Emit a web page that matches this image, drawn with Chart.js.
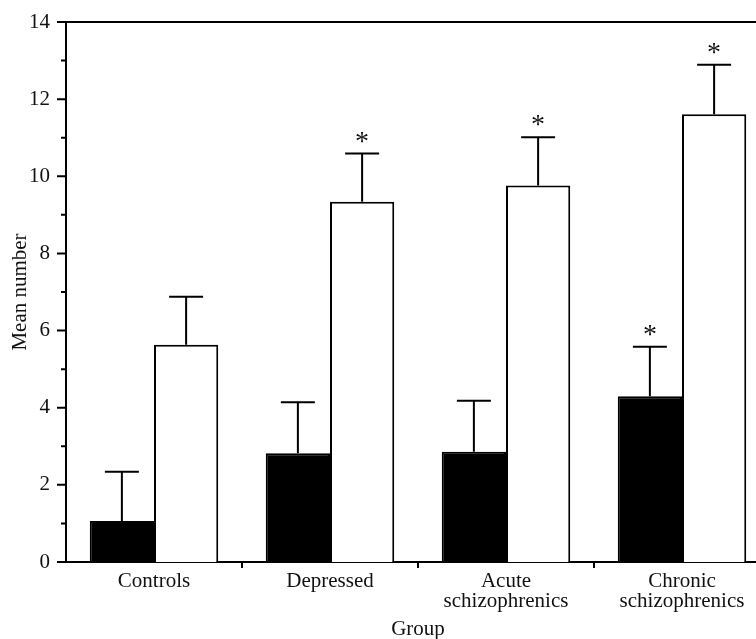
<!DOCTYPE html>
<html>
<head>
<meta charset="utf-8">
<script src="https://cdn.jsdelivr.net/npm/chart.js@4"></script>
<style>
  html, body { margin: 0; padding: 0; background: #fff; overflow: hidden; }
  #wrap { width: 756px; height: 639px; overflow: hidden; position: relative; }
  #box { width: 770px; height: 639px; position: absolute; left: 0; top: 0; }
</style>
</head>
<body>
<div id="wrap"><div id="box"><canvas id="chartCanvas"></canvas></div></div>
<script>
/* =========================
   Data
========================= */
const groups = [["Controls"], ["Depressed"], ["Acute", "schizophrenics"], ["Chronic", "schizophrenics"]];
const blackMeans = [1.06, 2.82, 2.86, 4.30];
const blackUpper = [2.34, 4.14, 4.18, 5.58];
const whiteMeans = [5.63, 9.34, 9.76, 11.61];
const whiteUpper = [6.88, 10.59, 11.01, 12.89];
const blackStars = [false, false, false, true];
const whiteStars = [false, true, true, true];
const yMin = 0;
const yMax = 14;

const serif = "'Liberation Serif', 'DejaVu Serif', serif";
const ink = "#111";

/* =========================
   Error bars + asterisks
========================= */
const errorBarPlugin = {
  id: "errorBars",
  afterDatasetsDraw(chart) {
    const ctx = chart.ctx;
    const y = chart.scales.y;
    const uppers = [blackUpper, whiteUpper];
    const stars = [blackStars, whiteStars];
    ctx.save();
    ctx.strokeStyle = "#000";
    ctx.lineWidth = 2;
    ctx.fillStyle = ink;
    ctx.font = "28px " + serif;
    ctx.textAlign = "center";
    ctx.textBaseline = "alphabetic";
    chart.data.datasets.forEach((ds, di) => {
      const meta = chart.getDatasetMeta(di);
      meta.data.forEach((bar, i) => {
        const top = y.getPixelForValue(uppers[di][i]);
        ctx.beginPath();
        ctx.moveTo(bar.x, bar.y);
        ctx.lineTo(bar.x, top);
        ctx.moveTo(bar.x - 17, top);
        ctx.lineTo(bar.x + 17, top);
        ctx.stroke();
        if (stars[di][i]) {
          ctx.fillText("*", bar.x, top - 4);
        }
      });
    });
    ctx.restore();
  }
};

/* =========================
   Frame + tick marks
========================= */
const framePlugin = {
  id: "frame",
  afterDraw(chart) {
    const ctx = chart.ctx;
    const a = chart.chartArea;
    const x = chart.scales.x;
    const y = chart.scales.y;
    ctx.save();
    ctx.strokeStyle = "#000";
    ctx.lineWidth = 2;
    ctx.beginPath();
    ctx.moveTo(a.left, a.top);
    ctx.lineTo(a.right, a.top);
    for (let v = yMin; v <= yMax; v++) {
      const py = y.getPixelForValue(v);
      const len = v % 2 === 0 ? 9 : 5;
      ctx.moveTo(a.left, py);
      ctx.lineTo(a.left - len, py);
    }
    for (let i = 0; i < groups.length; i++) {
      const px = (x.getPixelForValue(i) + x.getPixelForValue(i + 1)) / 2;
      ctx.moveTo(px, a.bottom);
      ctx.lineTo(px, a.bottom + 6);
    }
    ctx.stroke();
    ctx.restore();
  }
};

/* =========================
   Chart
========================= */
const ctx = document.getElementById("chartCanvas").getContext("2d");
new Chart(ctx, {
  type: "bar",
  data: {
    labels: groups,
    datasets: [
      {
        label: "Black",
        data: blackMeans,
        backgroundColor: "#000",
        borderColor: "#000",
        borderWidth: 2
      },
      {
        label: "White",
        data: whiteMeans,
        backgroundColor: "#fff",
        borderColor: "#000",
        borderWidth: 2
      }
    ]
  },
  options: {
    responsive: true,
    maintainAspectRatio: false,
    animation: false,
    devicePixelRatio: 1,
    categoryPercentage: 0.73,
    barPercentage: 1.0,
    layout: { padding: { top: 22, right: 0, left: 0, bottom: 0 } },
    plugins: {
      legend: { display: false },
      tooltip: { enabled: false }
    },
    scales: {
      x: {
        grid: { display: false },
        border: { display: true, color: "#000", width: 2 },
        ticks: {
          color: ink,
          font: { family: serif, size: 21, lineHeight: 0.95 },
          padding: 2,
          maxRotation: 0
        },
        title: {
          display: true,
          text: "Group",
          color: ink,
          font: { family: serif, size: 21 },
          padding: { top: 0, bottom: -3 }
        },
        afterFit: s => { s.height = 77; }
      },
      y: {
        min: yMin,
        max: yMax,
        grid: { display: false },
        border: { display: true, color: "#000", width: 2 },
        ticks: {
          stepSize: 2,
          color: ink,
          font: { family: serif, size: 21 },
          padding: 8
        },
        title: {
          display: true,
          text: "Mean number",
          color: ink,
          font: { family: serif, size: 21 },
          padding: { top: 8, bottom: 0 }
        },
        afterFit: s => { s.width = 66; }
      }
    }
  },
  plugins: [errorBarPlugin, framePlugin]
});
</script>
</body>
</html>
